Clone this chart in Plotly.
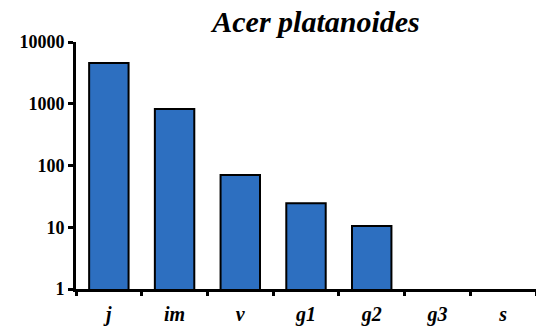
import plotly.graph_objects as go

categories = ["j", "im", "v", "g1", "g2", "g3", "s"]
values = [4570, 820, 70, 24.5, 10.5, None, None]
ytick_vals = [1, 10, 100, 1000, 10000]
ytick_text = ["1", "10", "100", "1000", "10000"]
title_text = "Acer platanoides"

SERIF = "Liberation Serif"

fig = go.Figure()
fig.add_trace(go.Bar(
    x=categories, y=values,
    marker=dict(color="#2D6FC0", line=dict(color="black", width=2)),
    width=0.6,
))

fig.update_layout(
    width=536, height=330,
    margin=dict(l=76, r=0, t=42, b=41),
    plot_bgcolor="white", paper_bgcolor="white",
    showlegend=False,
    font=dict(family=SERIF, color="black"),
    title=dict(
        text="<b><i>" + title_text + "</i></b>",
        font=dict(family=SERIF, size=30, color="black"),
        xref="container", x=316/536, xanchor="center",
        yref="container", y=1 - 21/330, yanchor="middle",
    ),
)
fig.update_xaxes(
    type="category",
    showline=True, linecolor="black", linewidth=3,
    ticks="outside", ticklen=4, tickwidth=3, tickcolor="black",
    tickson="boundaries",
    tickvals=categories,
    ticktext=["<b><i>" + c + "</i></b>" for c in categories],
    ticklabelstandoff=5,
    tickfont=dict(family=SERIF, size=20, color="black"),
    showgrid=False, zeroline=False,
)
fig.update_yaxes(
    type="log", range=[0, 4],
    showline=True, linecolor="black", linewidth=3,
    ticks="outside", ticklen=5, tickwidth=3, tickcolor="black",
    tickvals=ytick_vals,
    ticktext=["<b>" + t + "</b>" for t in ytick_text],
    tickfont=dict(family=SERIF, size=18, color="black"),
    showgrid=False, zeroline=False,
)

fig.write_html("out.html")
